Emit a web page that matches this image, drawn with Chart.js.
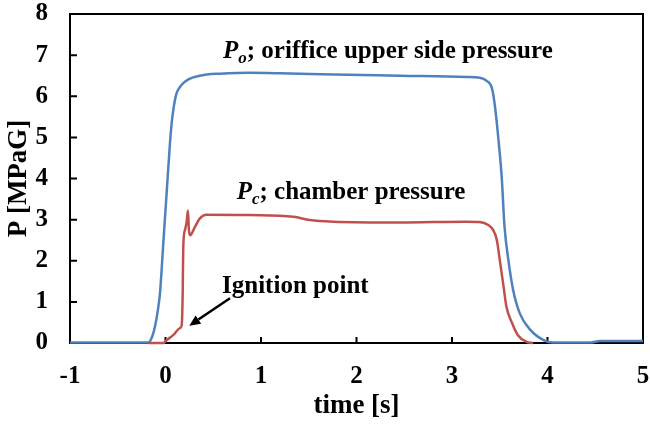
<!DOCTYPE html>
<html>
<head>
<meta charset="utf-8">
<script src="https://cdn.jsdelivr.net/npm/chart.js@4.4.0/dist/chart.umd.min.js"></script>
<style>
  html, body { margin: 0; padding: 0; background: #fff; }
</style>
</head>
<body>
<canvas id="myChart" width="650" height="425"></canvas>
<script>
// tick labels on both axes
var xTicks = [-1, 0, 1, 2, 3, 4, 5];
var yTicks = [0, 1, 2, 3, 4, 5, 6, 7, 8];

// P_o, orifice upper side pressure (blue)
var timeO = [-1.0, -0.5, -0.18, -0.14, -0.11, -0.08, -0.058, -0.04, -0.023, 0.012, 0.047, 0.065, 0.082, 0.1, 0.117, 0.15, 0.186, 0.24, 0.29, 0.36, 0.43, 0.57, 0.88, 1.2, 1.76, 2.46, 3.15, 3.29, 3.36, 3.42, 3.45, 3.49, 3.52, 3.55, 3.59, 3.64, 3.71, 3.82, 3.96, 4.06, 4.45, 4.55, 5.0];
var presO = [0.01, 0.01, 0.01, 0.15, 0.40, 0.80, 1.20, 1.80, 2.43, 3.65, 4.87, 5.35, 5.67, 5.92, 6.08, 6.22, 6.32, 6.41, 6.46, 6.50, 6.53, 6.55, 6.57, 6.56, 6.53, 6.50, 6.47, 6.45, 6.38, 6.18, 5.75, 4.86, 4.05, 2.83, 2.02, 1.29, 0.72, 0.32, 0.07, 0.01, 0.01, 0.05, 0.05];

// P_c, chamber pressure (red)
var timeC = [-0.18, -0.02, 0.012, 0.08, 0.15, 0.17, 0.18, 0.186, 0.204, 0.22, 0.235, 0.245, 0.257, 0.31, 0.36, 0.43, 0.88, 1.34, 1.51, 1.76, 2.46, 3.15, 3.29, 3.38, 3.43, 3.47, 3.5, 3.54, 3.57, 3.63, 3.69, 3.78, 3.85];
var presC = [0.0, 0.0, 0.07, 0.19, 0.36, 0.44, 1.22, 2.34, 2.75, 2.92, 3.22, 2.75, 2.62, 2.83, 3.03, 3.12, 3.11, 3.07, 2.99, 2.95, 2.93, 2.95, 2.94, 2.87, 2.75, 2.5, 2.02, 1.37, 0.88, 0.48, 0.19, 0.03, 0.0];

function toPoints(xs, ys) {
  return xs.map(function (x, i) { return { x: x, y: ys[i] }; });
}

var serif = "'Liberation Serif', 'Times New Roman', serif";

// frame, inward ticks and the text notes
var framePlugin = {
  id: 'framePlugin',
  beforeDatasetsDraw: function (chart) {
    var ctx = chart.ctx, a = chart.chartArea;
    var sx = chart.scales.x, sy = chart.scales.y;
    ctx.save();
    ctx.strokeStyle = '#000';
    ctx.lineWidth = 2;
    ctx.strokeRect(a.left, a.top, a.right - a.left, a.bottom - a.top);
    ctx.beginPath();
    xTicks.forEach(function (v) {
      var px = sx.getPixelForValue(v);
      ctx.moveTo(px, a.bottom);
      ctx.lineTo(px, a.bottom - 6);
    });
    yTicks.forEach(function (v) {
      var py = sy.getPixelForValue(v);
      ctx.moveTo(a.left, py);
      ctx.lineTo(a.left + 7, py);
    });
    ctx.stroke();
    ctx.restore();
  },
  afterDatasetsDraw: function (chart) {
    var ctx = chart.ctx;
    var sx = chart.scales.x, sy = chart.scales.y;
    ctx.save();
    ctx.fillStyle = '#000';
    ctx.textBaseline = 'alphabetic';
    ctx.textAlign = 'left';

    function label(t, v, sub, rest) {
      var px = sx.getPixelForValue(t), py = sy.getPixelForValue(v);
      ctx.font = 'italic bold 25px ' + serif;
      ctx.fillText('P', px, py);
      px += ctx.measureText('P').width;
      ctx.font = 'italic bold 17px ' + serif;
      ctx.fillText(sub, px, py + 5);
      px += ctx.measureText(sub).width;
      ctx.font = 'bold 25px ' + serif;
      ctx.fillText(rest, px, py);
    }
    label(0.602, 6.92, 'o', '; oriffice upper side pressure');
    label(0.745, 3.50, 'c', '; chamber pressure');

    ctx.font = 'bold 25px ' + serif;
    ctx.fillText('Ignition point', sx.getPixelForValue(0.592), sy.getPixelForValue(1.216));

    // arrow toward the ignition point
    var x0 = sx.getPixelForValue(0.675), y0 = sy.getPixelForValue(1.087);
    var x1 = sx.getPixelForValue(0.249), y1 = sy.getPixelForValue(0.42);
    var ang = Math.atan2(y1 - y0, x1 - x0);
    var hl = 11, hw = 5;
    ctx.strokeStyle = '#000';
    ctx.lineWidth = 2.5;
    ctx.beginPath();
    ctx.moveTo(x0, y0);
    ctx.lineTo(x1 - hl * Math.cos(ang), y1 - hl * Math.sin(ang));
    ctx.stroke();
    ctx.beginPath();
    ctx.moveTo(x1, y1);
    ctx.lineTo(x1 - hl * Math.cos(ang) + hw * Math.sin(ang), y1 - hl * Math.sin(ang) - hw * Math.cos(ang));
    ctx.lineTo(x1 - hl * Math.cos(ang) - hw * Math.sin(ang), y1 - hl * Math.sin(ang) + hw * Math.cos(ang));
    ctx.closePath();
    ctx.fill();
    ctx.restore();
  }
};

var ctx = document.getElementById('myChart').getContext('2d');
var chart = new Chart(ctx, {
  type: 'line',
  data: {
    datasets: [{
      label: 'Pc',
      data: toPoints(timeC, presC),
      borderColor: '#C0504D',
      borderWidth: 2.5,
      pointRadius: 0,
      cubicInterpolationMode: 'monotone',
      clip: 6
    }, {
      label: 'Po',
      data: toPoints(timeO, presO),
      borderColor: '#4F81BD',
      borderWidth: 2.5,
      pointRadius: 0,
      cubicInterpolationMode: 'monotone',
      clip: 6
    }]
  },
  options: {
    responsive: false,
    animation: false,
    layout: { padding: { top: 14, right: 7, left: 0, bottom: 0 } },
    plugins: { legend: { display: false }, tooltip: { enabled: false } },
    scales: {
      x: {
        type: 'linear',
        min: -1, max: 5,
        afterBuildTicks: function (s) { s.ticks = xTicks.map(function (v) { return { value: v }; }); },
        afterFit: function (s) { s.height = 82; s.paddingLeft = 0; s.paddingRight = 0; },
        grid: { display: false, drawTicks: false },
        border: { display: false },
        ticks: { color: '#000', padding: 19, font: { family: serif, size: 25, weight: 'bold' } },
        title: {
          display: true, text: 'time [s]', color: '#000',
          padding: { top: 0, bottom: 3 },
          font: { family: serif, size: 27, weight: 'bold' }
        }
      },
      y: {
        min: 0, max: 8,
        afterBuildTicks: function (s) { s.ticks = yTicks.map(function (v) { return { value: v }; }); },
        afterFit: function (s) { s.width = 70; s.paddingTop = 0; s.paddingBottom = 0; },
        grid: { display: false, drawTicks: false },
        border: { display: false },
        ticks: { color: '#000', padding: 22, font: { family: serif, size: 25, weight: 'bold' } },
        title: {
          display: true, text: 'P [MPaG]', color: '#000',
          padding: { top: 3, bottom: 0 },
          font: { family: serif, size: 27, weight: 'bold' }
        }
      }
    }
  },
  plugins: [framePlugin]
});
</script>
</body>
</html>
